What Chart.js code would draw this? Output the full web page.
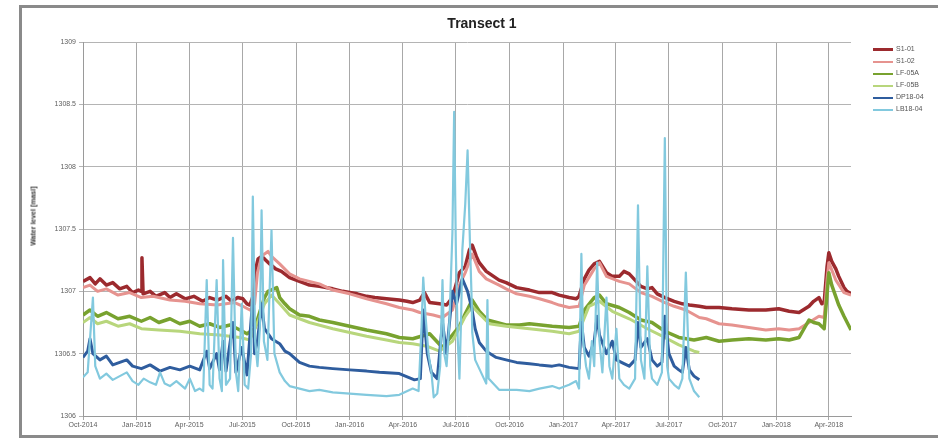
<!DOCTYPE html>
<html>
<head>
<meta charset="utf-8">
<script src="https://cdn.jsdelivr.net/npm/chart.js@4.4.1/dist/chart.umd.min.js"></script>
<style>
  body { margin: 0; background: #fff; }
  #wrap { position: relative; width: 938px; height: 439px; overflow: hidden; font-family: "Liberation Sans", Arial, sans-serif; }
  #frame { position: absolute; left: 19px; top: 5px; width: 940px; height: 427px; border: 3px solid #8a8a8a; border-right: none; }
  #chart { position: absolute; left: 0; top: 0; }
  #title { position: absolute; left: 382px; width: 200px; top: 15px; text-align: center; font-weight: bold; font-size: 14px; color: #222; }
  #ytitle { position: absolute; left: 33px; top: 216px; transform: translate(-50%, -50%) rotate(-90deg); white-space: nowrap; font-weight: bold; font-size: 7px; color: #333; }
  .leg { position: absolute; left: 873px; height: 10px; font-size: 7px; color: #555; white-space: nowrap; }
  .leg span.ln { position: absolute; left: 0; width: 20px; }
  .leg span.tx { position: absolute; left: 23px; top: 0; line-height: 10px; }
</style>
</head>
<body>
<div id="wrap">
  <div id="frame"></div>
  <canvas id="chart" width="938" height="439"></canvas>
  <div id="title">Transect 1</div>
  <div id="ytitle">Water level [masl]</div>
  <div id="legend"></div>
</div>
<script>
// days counted from 1 Oct 2014
const quarterDays = [0, 92, 182, 273, 365, 457, 548, 639, 731, 823, 913, 1004, 1096, 1188, 1278];
const quarterLabels = ['Oct-2014', 'Jan-2015', 'Apr-2015', 'Jul-2015', 'Oct-2015', 'Jan-2016', 'Apr-2016',
  'Jul-2016', 'Oct-2016', 'Jan-2017', 'Apr-2017', 'Jul-2017', 'Oct-2017', 'Jan-2018', 'Apr-2018'];
const yTicks = [1306, 1306.5, 1307, 1307.5, 1308, 1308.5, 1309];

const seriesNames = ['S1-01', 'S1-02', 'LF-05A', 'LF-05B', 'DP18-04', 'LB18-04'];
const seriesColors = ['#9c2a2e', '#e6938f', '#78a22f', '#b8d67c', '#2f5d9e', '#82c9de'];

const s101 = [[0,1307.08],[12,1307.11],[21,1307.06],[29,1307.10],[40,1307.05],[51,1307.07],[63,1307.02],[75,1307.04],
  [85,1306.99],[95,1307.01],[100,1307.00],[101,1307.27],[103,1306.98],[115,1307.00],[125,1306.96],[140,1306.99],
  [149,1306.95],[160,1306.98],[175,1306.94],[190,1306.96],[205,1306.92],[217,1306.95],[230,1306.93],[245,1306.96],
  [255,1306.92],[265,1306.95],[274,1306.94],[281,1306.90],[286,1306.89],[292,1306.97],[296,1307.18],[300,1307.26],
  [306,1307.28],[311,1307.26],[320,1307.22],[330,1307.18],[340,1307.16],[354,1307.11],[371,1307.08],[388,1307.05],
  [405,1307.04],[428,1307.02],[445,1307.00],[457,1306.99],[470,1306.98],[486,1306.96],[500,1306.95],[520,1306.94],
  [542,1306.93],[555,1306.92],[565,1306.91],[577,1306.93],[585,1306.99],[594,1306.91],[611,1306.90],[623,1306.89],
  [633,1306.95],[645,1307.15],[655,1307.20],[662,1307.33],[667,1307.37],[674,1307.28],[679,1307.23],[691,1307.16],
  [713,1307.09],[725,1307.07],[743,1307.03],[765,1307.01],[782,1306.99],[804,1306.99],[816,1306.97],[833,1306.95],
  [845,1306.94],[850,1306.96],[859,1307.10],[867,1307.17],[876,1307.22],[885,1307.24],[897,1307.15],[907,1307.12],
  [919,1307.12],[927,1307.16],[936,1307.14],[946,1307.09],[956,1307.04],[967,1307.02],[975,1307.03],[984,1306.98],
  [997,1306.95],[1013,1306.92],[1027,1306.90],[1039,1306.89],[1056,1306.88],[1068,1306.87],[1090,1306.87],
  [1112,1306.86],[1141,1306.85],[1170,1306.85],[1192,1306.86],[1210,1306.84],[1227,1306.83],[1244,1306.88],
  [1252,1306.92],[1261,1306.95],[1266,1306.90],[1270,1306.91],[1275,1307.20],[1278,1307.31],[1283,1307.24],
  [1290,1307.18],[1295,1307.12],[1304,1307.03],[1309,1307.00],[1316,1306.98]];

const s102 = [[0,1307.03],[12,1307.05],[25,1307.00],[40,1307.02],[60,1306.97],[80,1306.99],[100,1306.95],[120,1306.96],
  [149,1306.93],[175,1306.92],[200,1306.90],[230,1306.89],[260,1306.91],[274,1306.88],[286,1306.85],[294,1306.90],
  [299,1307.15],[306,1307.28],[311,1307.30],[317,1307.32],[323,1307.28],[337,1307.22],[354,1307.14],[371,1307.10],
  [405,1307.06],[428,1307.01],[457,1306.98],[486,1306.94],[520,1306.90],[542,1306.87],[565,1306.85],[577,1306.83],
  [600,1306.81],[616,1306.79],[633,1306.85],[645,1307.05],[655,1307.15],[667,1307.30],[679,1307.16],[691,1307.10],
  [713,1307.05],[725,1307.02],[743,1306.98],[765,1306.96],[782,1306.94],[804,1306.91],[816,1306.89],[833,1306.87],
  [850,1306.88],[859,1307.05],[876,1307.18],[885,1307.23],[897,1307.12],[919,1307.08],[936,1307.06],[956,1306.99],
  [975,1306.96],[997,1306.91],[1013,1306.88],[1033,1306.85],[1056,1306.79],[1068,1306.78],[1090,1306.74],
  [1112,1306.73],[1141,1306.71],[1170,1306.69],[1192,1306.70],[1210,1306.69],[1227,1306.70],[1244,1306.75],
  [1261,1306.80],[1270,1306.79],[1275,1307.10],[1278,1307.23],[1290,1307.09],[1304,1306.99],[1316,1306.97]];

const lf05a = [[0,1306.81],[12,1306.85],[25,1306.80],[40,1306.83],[60,1306.78],[80,1306.80],[100,1306.76],[115,1306.79],
  [130,1306.75],[149,1306.78],[166,1306.74],[183,1306.76],[200,1306.72],[217,1306.74],[234,1306.71],[252,1306.73],
  [269,1306.69],[281,1306.66],[294,1306.70],[306,1306.88],[311,1306.95],[317,1307.00],[332,1307.03],[337,1306.95],
  [346,1306.90],[354,1306.86],[371,1306.81],[388,1306.80],[405,1306.77],[428,1306.75],[457,1306.72],[486,1306.69],
  [520,1306.66],[542,1306.63],[565,1306.62],[594,1306.66],[616,1306.55],[628,1306.62],[645,1306.72],[655,1306.82],
  [667,1306.93],[679,1306.84],[693,1306.77],[725,1306.73],[748,1306.73],[765,1306.74],[804,1306.72],[833,1306.71],
  [850,1306.72],[859,1306.85],[876,1306.95],[885,1306.97],[897,1306.90],[919,1306.87],[936,1306.83],[956,1306.77],
  [975,1306.75],[997,1306.68],[1021,1306.63],[1047,1306.61],[1068,1306.63],[1090,1306.60],[1112,1306.61],
  [1141,1306.62],[1170,1306.61],[1192,1306.62],[1210,1306.61],[1227,1306.63],[1244,1306.77],[1252,1306.75],
  [1261,1306.74],[1270,1306.70],[1278,1307.15],[1283,1307.05],[1295,1306.89],[1304,1306.80],[1316,1306.69]];

const lf05b = [[0,1306.75],[12,1306.79],[25,1306.74],[40,1306.76],[60,1306.72],[80,1306.74],[100,1306.70],[130,1306.69],
  [166,1306.68],[200,1306.66],[234,1306.65],[269,1306.63],[286,1306.61],[299,1306.75],[311,1306.90],[323,1306.97],
  [337,1306.90],[354,1306.81],[388,1306.75],[428,1306.70],[457,1306.67],[486,1306.64],[520,1306.61],[542,1306.59],
  [565,1306.58],[589,1306.56],[611,1306.52],[633,1306.60],[655,1306.80],[667,1306.88],[679,1306.82],[696,1306.74],
  [725,1306.72],[765,1306.70],[804,1306.68],[833,1306.66],[850,1306.68],[867,1306.88],[885,1306.92],[907,1306.84],
  [936,1306.78],[967,1306.70],[997,1306.63],[1021,1306.57],[1047,1306.52],[1056,1306.51]];

const dp1804 = [[0,1306.47],[8,1306.52],[12,1306.62],[17,1306.50],[29,1306.45],[40,1306.48],[51,1306.41],[63,1306.43],
  [75,1306.45],[85,1306.40],[100,1306.38],[115,1306.41],[132,1306.36],[149,1306.39],[166,1306.37],[183,1306.40],
  [200,1306.37],[212,1306.52],[217,1306.38],[229,1306.50],[234,1306.37],[240,1306.60],[245,1306.36],[257,1306.75],
  [262,1306.35],[272,1306.55],[281,1306.33],[291,1306.95],[294,1306.50],[299,1306.60],[306,1306.90],[311,1306.70],
  [323,1306.62],[337,1306.58],[346,1306.52],[354,1306.50],[371,1306.43],[388,1306.40],[405,1306.39],[428,1306.38],
  [457,1306.37],[486,1306.36],[508,1306.35],[542,1306.34],[568,1306.29],[578,1306.30],[583,1306.85],[590,1306.50],
  [597,1306.35],[607,1306.30],[616,1306.75],[623,1306.50],[633,1307.00],[640,1306.90],[650,1307.10],[659,1307.00],
  [666,1306.87],[672,1306.70],[679,1306.59],[691,1306.52],[708,1306.47],[725,1306.45],[743,1306.43],
  [765,1306.42],[782,1306.41],[804,1306.40],[816,1306.41],[833,1306.39],[850,1306.38],[854,1306.75],[859,1306.55],
  [867,1306.48],[876,1306.60],[881,1306.80],[885,1306.65],[897,1306.50],[907,1306.60],[914,1306.45],[927,1306.42],
  [936,1306.40],[946,1306.45],[951,1306.75],[956,1306.55],[967,1306.62],[975,1306.45],[984,1306.40],[992,1306.43],
  [997,1306.80],[1004,1306.50],[1013,1306.40],[1021,1306.37],[1027,1306.35],[1033,1306.55],[1039,1306.37],
  [1047,1306.32],[1056,1306.29]];

const lb1804 = [[0,1306.31],[8,1306.35],[17,1306.95],[21,1306.40],[29,1306.30],[40,1306.34],[51,1306.29],[63,1306.32],
  [75,1306.35],[85,1306.28],[95,1306.25],[104,1306.30],[115,1306.27],[125,1306.25],[132,1306.35],[140,1306.26],
  [149,1306.24],[160,1306.28],[175,1306.22],[183,1306.30],[192,1306.20],[200,1306.22],[206,1306.20],[212,1307.09],
  [217,1306.25],[222,1306.22],[229,1307.09],[234,1306.30],[238,1306.20],[240,1307.25],[245,1306.25],[252,1306.30],
  [257,1307.43],[262,1306.35],[266,1306.20],[272,1306.90],[277,1306.25],[283,1306.22],[288,1306.50],[291,1307.76],
  [295,1306.60],[299,1306.40],[303,1306.70],[306,1307.65],[310,1306.60],[316,1306.45],[323,1307.49],[328,1306.50],
  [337,1306.35],[346,1306.28],[354,1306.24],[371,1306.22],[388,1306.20],[405,1306.21],[428,1306.19],[457,1306.18],
  [486,1306.17],[520,1306.16],[542,1306.17],[565,1306.22],[575,1306.20],[580,1306.70],[583,1307.11],[587,1306.80],
  [592,1306.50],[597,1306.35],[601,1306.15],[607,1306.18],[612,1306.40],[616,1307.09],[619,1306.50],[623,1306.40],
  [628,1306.77],[633,1307.47],[636,1308.44],[639,1307.30],[642,1306.63],[645,1306.30],[648,1306.80],[650,1307.33],
  [655,1307.70],[659,1308.13],[663,1307.40],[666,1306.93],[667,1306.67],[672,1306.45],[679,1306.38],[687,1306.30],
  [691,1306.26],[693,1306.93],[695,1306.30],[713,1306.21],[743,1306.21],[765,1306.20],[782,1306.22],[804,1306.24],
  [816,1306.22],[833,1306.25],[845,1306.28],[850,1306.22],[854,1307.30],[857,1306.60],[862,1306.40],[867,1306.30],
  [872,1306.60],[876,1306.40],[881,1307.23],[885,1306.60],[890,1306.35],[897,1306.95],[902,1306.40],[907,1306.30],
  [914,1306.70],[919,1306.30],[927,1306.25],[936,1306.22],[946,1306.30],[951,1307.69],[956,1306.45],[962,1306.30],
  [967,1307.20],[972,1306.40],[975,1306.30],[984,1306.25],[992,1306.35],[997,1308.23],[1001,1306.40],[1004,1306.30],
  [1013,1306.25],[1021,1306.22],[1027,1306.30],[1033,1307.15],[1039,1306.30],[1047,1306.20],[1056,1306.15]];

const allSeries = [s101, s102, lf05a, lf05b, dp1804, lb1804];
const lineWidths = [3.5, 3, 3.5, 3, 3, 2.2];

// html legend
const legendDiv = document.getElementById('legend');
seriesNames.forEach((name, i) => {
  const item = document.createElement('div');
  item.className = 'leg';
  item.style.top = (44 + i * 12) + 'px';
  const ln = document.createElement('span');
  ln.className = 'ln';
  ln.style.background = seriesColors[i];
  ln.style.height = (i === 0 ? 3 : 1.5) + 'px';
  ln.style.top = (i === 0 ? 4 : 5) + 'px';
  item.appendChild(ln);
  const tx = document.createElement('span');
  tx.className = 'tx';
  tx.textContent = name;
  item.appendChild(tx);
  legendDiv.appendChild(item);
});

const tickFont = { family: 'Liberation Sans, Arial, sans-serif', size: 7 };

new Chart(document.getElementById('chart'), {
  type: 'line',
  data: {
    datasets: allSeries.map((pts, i) => ({
      label: seriesNames[i],
      data: pts.map(p => ({ x: p[0], y: p[1] })),
      borderColor: seriesColors[i],
      backgroundColor: seriesColors[i],
      borderWidth: lineWidths[i],
      borderJoinStyle: 'round',
      pointRadius: 0,
      tension: 0,
      fill: false,
      order: allSeries.length - i
    }))
  },
  options: {
    responsive: false,
    animation: false,
    layout: { padding: { left: 25, top: 42, right: 87, bottom: 9 } },
    plugins: { legend: { display: false }, tooltip: { enabled: false }, title: { display: false } },
    scales: {
      x: {
        type: 'linear',
        min: 0,
        max: 1316,
        afterBuildTicks: axis => { axis.ticks = quarterDays.map(v => ({ value: v })); },
        afterFit: axis => { axis.height = 14; },
        ticks: {
          autoSkip: false,
          maxRotation: 0,
          font: tickFont,
          color: '#606060',
          padding: 1,
          callback: (v, i) => quarterLabels[i]
        },
        grid: { color: '#a8a8a8', tickLength: 4 },
        border: { color: '#9a9a9a' }
      },
      y: {
        min: 1306,
        max: 1309,
        afterBuildTicks: axis => { axis.ticks = yTicks.map(v => ({ value: v })); },
        afterFit: axis => { axis.width = 58; },
        ticks: {
          font: tickFont,
          color: '#606060',
          padding: 3,
          callback: v => String(v)
        },
        grid: { color: '#b4b4b4', tickLength: 4 },
        border: { color: '#9a9a9a' }
      }
    }
  }
});
</script>
</body>
</html>
